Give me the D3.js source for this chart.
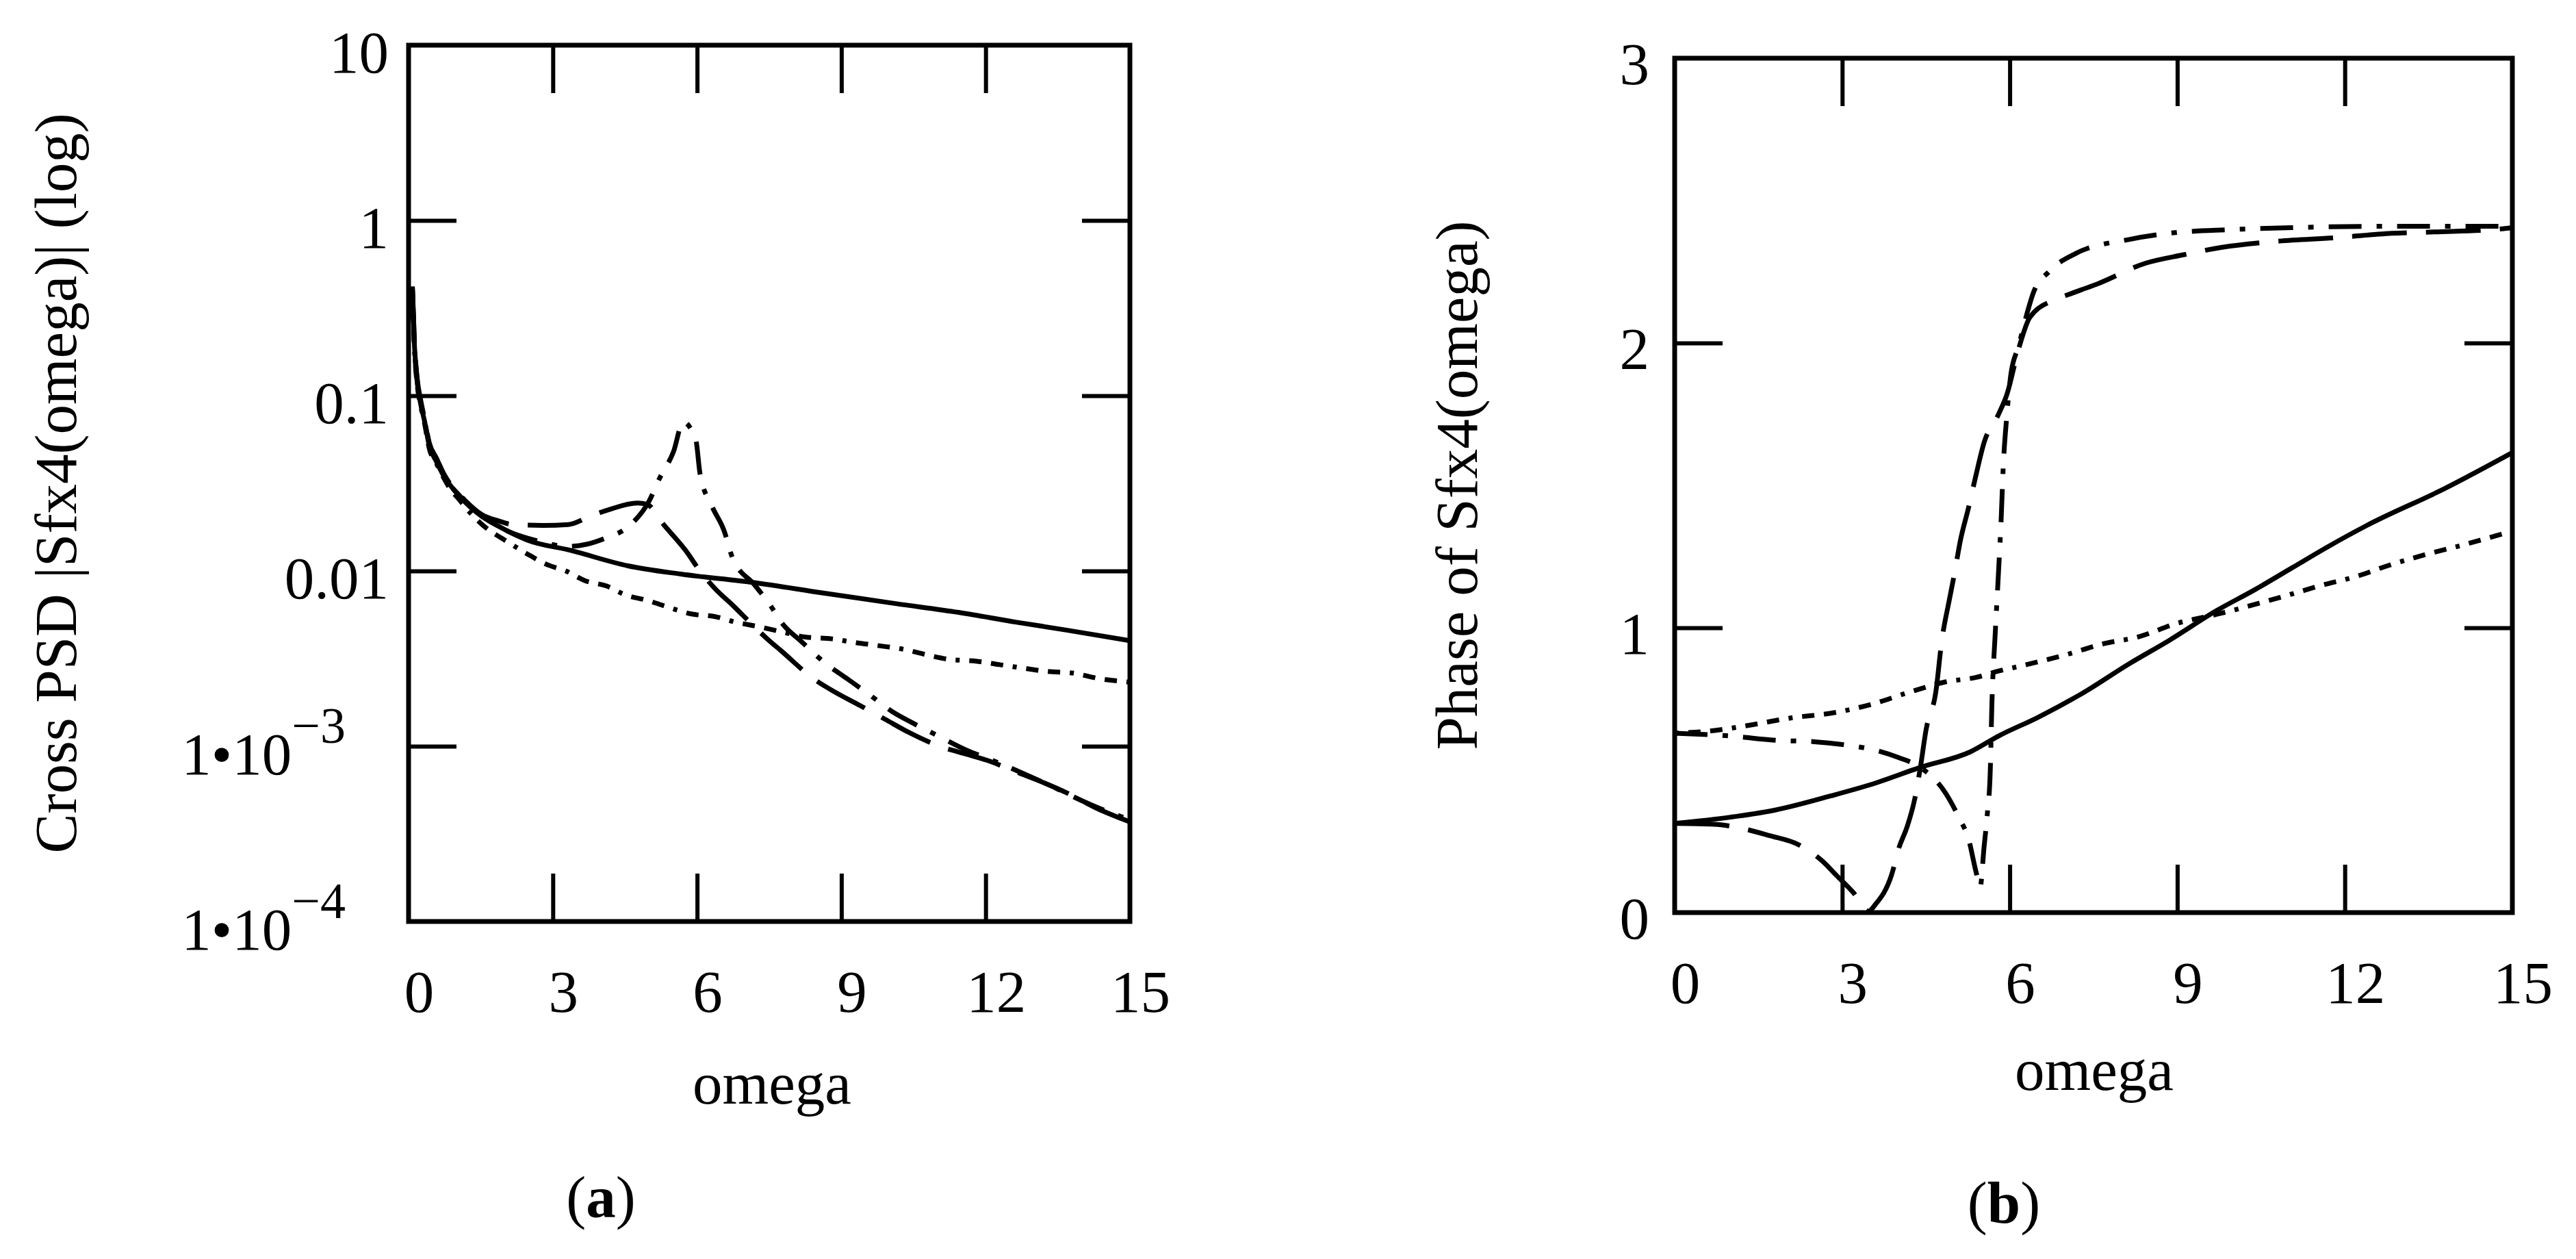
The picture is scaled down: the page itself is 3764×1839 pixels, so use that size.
<!DOCTYPE html>
<html>
<head>
<meta charset="utf-8">
<script src="https://cdn.jsdelivr.net/npm/d3@7"></script>
<style>
  body { margin: 0; background: #fff; }
  text { font-family: "Liberation Serif", "Times New Roman", serif; fill: #000; }
</style>
</head>
<body>
<div id="chart"></div>
<script>
// tick values
const omegaTicks = [0, 3, 6, 9, 12, 15];
const psdTicks = [10, 1, 0.1, 0.01, 0.001, 0.0001];
const phaseTicks = [0, 1, 2, 3];

// (a) cross PSD |Sfx4(omega)|, pairs of [omega, value]
const psdSolid = [[0.08, 0.41], [0.12, 0.2], [0.18, 0.12], [0.25, 0.09], [0.33, 0.072], [0.43, 0.052], [0.58, 0.042], [0.73, 0.035], [0.88, 0.0305], [1.03, 0.0272], [1.28, 0.0232], [1.52, 0.0205], [1.87, 0.018], [2.47, 0.015], [3.37, 0.0131], [4.56, 0.0107], [5.66, 0.0096], [7.16, 0.0086], [8.6, 0.0075], [10.15, 0.0065], [11.44, 0.0058], [12.64, 0.0051], [13.68, 0.0046], [15, 0.004]];
const psdDotted = [[0.08, 0.38], [0.12, 0.19], [0.18, 0.115], [0.25, 0.088], [0.33, 0.07], [0.43, 0.05], [0.58, 0.041], [0.73, 0.034], [0.88, 0.029], [1.03, 0.026], [1.28, 0.0215], [1.52, 0.0185], [2.07, 0.0146], [2.47, 0.0125], [2.87, 0.0109], [3.27, 0.01], [3.67, 0.0088], [4.12, 0.0082], [4.51, 0.0073], [4.96, 0.0068], [5.41, 0.0062], [5.86, 0.0057], [6.36, 0.0055], [6.81, 0.0051], [7.3, 0.0048], [7.75, 0.0045], [8.25, 0.0042], [8.8, 0.0041], [9.3, 0.0039], [9.8, 0.00374], [10.3, 0.00357], [10.74, 0.00334], [11.24, 0.00313], [11.8, 0.00306], [12.29, 0.00292], [12.74, 0.0028], [13.29, 0.00267], [13.83, 0.00261], [14.33, 0.00244], [15, 0.00232]];
const psdDash = [[0.08, 0.42], [0.12, 0.21], [0.18, 0.125], [0.25, 0.095], [0.33, 0.074], [0.43, 0.054], [0.58, 0.044], [0.73, 0.036], [0.88, 0.031], [1.03, 0.0278], [1.28, 0.0237], [1.52, 0.021], [1.87, 0.0193], [2.17, 0.0184], [2.8, 0.0182], [3.32, 0.0184], [3.77, 0.0205], [4.17, 0.0224], [4.76, 0.0244], [4.96, 0.024], [5.31, 0.0183], [5.76, 0.0131], [6.06, 0.01], [6.36, 0.008], [6.76, 0.0063], [7.16, 0.0049], [7.5, 0.004], [7.75, 0.0035], [8.4, 0.00245], [8.85, 0.00205], [9.4, 0.0017], [9.9, 0.00143], [10.4, 0.0012], [11.04, 0.001], [11.6, 0.0009], [12.09, 0.00082], [12.6, 0.00072], [13.14, 0.00063], [13.73, 0.000535], [14.33, 0.00044], [15, 0.00037]];
const psdDashDot = [[0.08, 0.4], [0.12, 0.2], [0.18, 0.12], [0.25, 0.092], [0.33, 0.073], [0.43, 0.053], [0.58, 0.043], [0.73, 0.035], [0.88, 0.0305], [1.03, 0.0275], [1.28, 0.0234], [1.52, 0.0207], [2.0, 0.0172], [2.7, 0.0148], [3.3, 0.0138], [3.7, 0.0142], [4.07, 0.0153], [4.61, 0.0183], [5.0, 0.025], [5.21, 0.0334], [5.51, 0.048], [5.71, 0.071], [5.85, 0.066], [5.98, 0.055], [6.06, 0.036], [6.31, 0.0234], [6.56, 0.017], [6.73, 0.012], [7.2, 0.0083], [7.5, 0.0065], [7.8, 0.0049], [8.15, 0.004], [8.65, 0.003], [9.1, 0.00245], [9.55, 0.002], [10.1, 0.00155], [10.5, 0.00135], [11.0, 0.00115], [11.6, 0.00095], [12.1, 0.00084], [13.1, 0.00064], [14.3, 0.00045], [15, 0.00038]];

// (b) phase of Sfx4(omega)
const phaseSolid = [[0, 0.313], [1, 0.335], [1.8, 0.36], [2.8, 0.41], [3.6, 0.455], [4.4, 0.51], [5.3, 0.565], [5.8, 0.62], [6.5, 0.685], [7.3, 0.77], [8.15, 0.875], [8.85, 0.955], [9.7, 1.06], [10.4, 1.135], [11.05, 1.21], [11.7, 1.285], [12.4, 1.36], [13.8, 1.49], [15, 1.615]];
const phaseDotted = [[0, 0.63], [0.6, 0.637], [1.4, 0.66], [2.1, 0.684], [2.8, 0.7], [3.5, 0.73], [4.3, 0.78], [4.85, 0.81], [5.4, 0.826], [5.8, 0.848], [6.2, 0.866], [7.0, 0.905], [7.7, 0.945], [8.3, 0.968], [9.0, 1.016], [9.7, 1.047], [10.9, 1.11], [11.6, 1.15], [12.2, 1.18], [12.8, 1.22], [13.5, 1.26], [14.1, 1.29], [15, 1.34]];
const phaseDash = [[0, 0.313], [0.7, 0.31], [1.1, 0.3], [1.7, 0.27], [2.2, 0.24], [2.65, 0.18], [2.9, 0.13], [3.2, 0.07], [3.47, 0.005], [3.6, 0.03], [3.88, 0.13], [4.02, 0.23], [4.16, 0.3], [4.3, 0.4], [4.4, 0.51], [4.5, 0.64], [4.68, 0.78], [4.78, 0.95], [4.92, 1.1], [5.0, 1.18], [5.12, 1.31], [5.26, 1.42], [5.4, 1.54], [5.54, 1.65], [5.8, 1.75], [5.95, 1.82], [6.16, 1.98], [6.36, 2.09], [6.78, 2.15], [7.05, 2.17], [7.6, 2.21], [8.43, 2.28], [9.12, 2.31], [9.8, 2.336], [10.77, 2.357], [11.87, 2.37], [12.84, 2.385], [13.6, 2.39], [14.77, 2.4], [15, 2.405]];
const phaseDashDot = [[0, 0.63], [1.0, 0.62], [1.8, 0.605], [2.5, 0.6], [3.0, 0.59], [3.6, 0.57], [4.0, 0.545], [4.4, 0.51], [4.85, 0.42], [5.1, 0.33], [5.26, 0.26], [5.4, 0.14], [5.47, 0.09], [5.54, 0.23], [5.6, 0.35], [5.65, 0.49], [5.68, 0.73], [5.74, 0.98], [5.8, 1.2], [5.85, 1.4], [5.88, 1.55], [5.95, 1.75], [6.02, 1.89], [6.16, 1.99], [6.29, 2.09], [6.43, 2.18], [6.7, 2.25], [7.19, 2.315], [8.15, 2.364], [8.84, 2.385], [9.94, 2.398], [11.05, 2.405], [12.84, 2.41], [15, 2.41]];

function init() {
    let width = 3764, height = 1839;
    let fs = 87;
    let svg = d3.select("#chart").append("svg")
        .attr("width", width)
        .attr("height", height);
    svg.append("rect").attr("width", width).attr("height", height).attr("fill", "#fff");

    let dashes = ["none", "6,14,18,14,18,14", "80,28", "48,22,8,22"];

    function panel(x, y, innerY, series) {
        let [x0, x1] = x.range();
        let [y0, y1] = y.range(); // y0 bottom, y1 top

        // tick marks on all four sides, pointing inward
        let bottom = svg.append("g").attr("transform", `translate(0,${y0})`)
            .call(d3.axisBottom(x).tickValues(omegaTicks).tickSize(-70).tickPadding(70).tickFormat(d3.format("d")));
        svg.append("g").attr("transform", `translate(0,${y1})`)
            .call(d3.axisTop(x).tickValues([3, 6, 9, 12]).tickSize(-70).tickFormat(""));
        svg.append("g").attr("transform", `translate(${x0},0)`)
            .call(d3.axisLeft(y).tickValues(innerY).tickSize(-70).tickFormat(""));
        svg.append("g").attr("transform", `translate(${x1},0)`)
            .call(d3.axisRight(y).tickValues(innerY).tickSize(-70).tickFormat(""));
        svg.selectAll(".domain").remove();
        svg.selectAll(".tick line").attr("stroke", "#000").attr("stroke-width", 6);
        bottom.selectAll("text")
            .attr("font-size", fs)
            .attr("font-family", "Liberation Serif")
            .attr("dx", 15);
        bottom.selectAll(".tick").filter(d => d == 0 || d == 15).select("line").remove();

        // curves
        let line = d3.line()
            .x(d => x(d[0]))
            .y(d => y(d[1]))
            .curve(d3.curveMonotoneX);
        svg.append("g").selectAll("path")
            .data(series)
            .join("path")
            .attr("d", line)
            .attr("fill", "none")
            .attr("stroke", "#000")
            .attr("stroke-width", 7)
            .attr("stroke-dasharray", (_, i) => dashes[i]);

        // frame
        svg.append("rect")
            .attr("x", x0).attr("y", y1)
            .attr("width", x1 - x0).attr("height", y0 - y1)
            .attr("fill", "none")
            .attr("stroke", "#000")
            .attr("stroke-width", 7);
    }

    // ---- (a) ----
    let xA = d3.scaleLinear().domain([0, 15]).range([597, 1651]);
    let yA = d3.scaleLog().domain([1e-4, 10]).range([1346, 66]);
    panel(xA, yA, psdTicks.slice(1, -1), [psdSolid, psdDotted, psdDash, psdDashDot]);

    psdTicks.forEach(t => {
        let e = Math.round(Math.log10(t));
        if (e >= -2) {
            svg.append("text")
                .attr("x", 568).attr("y", yA(t) + 40)
                .attr("text-anchor", "end")
                .attr("font-size", fs)
                .text(String(t));
        } else {
            let txt = svg.append("text")
                .attr("x", 505).attr("y", yA(t) + 41)
                .attr("text-anchor", "end")
                .attr("font-size", fs);
            txt.append("tspan").text("1\u202210");
            txt.append("tspan").attr("dy", -46).attr("font-size", 74).text("\u2212" + (-e));
        }
    });

    svg.append("text")
        .attr("transform", "translate(111,706) rotate(-90)")
        .attr("text-anchor", "middle")
        .attr("font-size", fs)
        .text("Cross PSD |Sfx4(omega)| (log)");
    svg.append("text")
        .attr("x", 1128).attr("y", 1612)
        .attr("text-anchor", "middle")
        .attr("font-size", fs)
        .text("omega");
    let la = svg.append("text")
        .attr("x", 878).attr("y", 1778)
        .attr("text-anchor", "middle")
        .attr("font-size", fs);
    la.append("tspan").text("(");
    la.append("tspan").attr("font-weight", "bold").text("a");
    la.append("tspan").text(")");

    // ---- (b) ----
    let xB = d3.scaleLinear().domain([0, 15]).range([2447, 3671]);
    let yB = d3.scaleLinear().domain([0, 3]).range([1333, 85]);
    panel(xB, yB, [1, 2], [phaseSolid, phaseDotted, phaseDash, phaseDashDot]);

    svg.append("g").selectAll("text")
        .data(phaseTicks)
        .join("text")
        .attr("x", 2410)
        .attr("y", d => yB(d) + 38)
        .attr("text-anchor", "end")
        .attr("font-size", fs)
        .text(d => d);

    svg.append("text")
        .attr("transform", "translate(2158,709) rotate(-90)")
        .attr("text-anchor", "middle")
        .attr("font-size", fs)
        .text("Phase of Sfx4(omega)");
    svg.append("text")
        .attr("x", 3060).attr("y", 1592)
        .attr("text-anchor", "middle")
        .attr("font-size", fs)
        .text("omega");
    let lb = svg.append("text")
        .attr("x", 2928).attr("y", 1786)
        .attr("text-anchor", "middle")
        .attr("font-size", fs);
    lb.append("tspan").text("(");
    lb.append("tspan").attr("font-weight", "bold").text("b");
    lb.append("tspan").text(")");
}
window.onload = init;
</script>
</body>
</html>
